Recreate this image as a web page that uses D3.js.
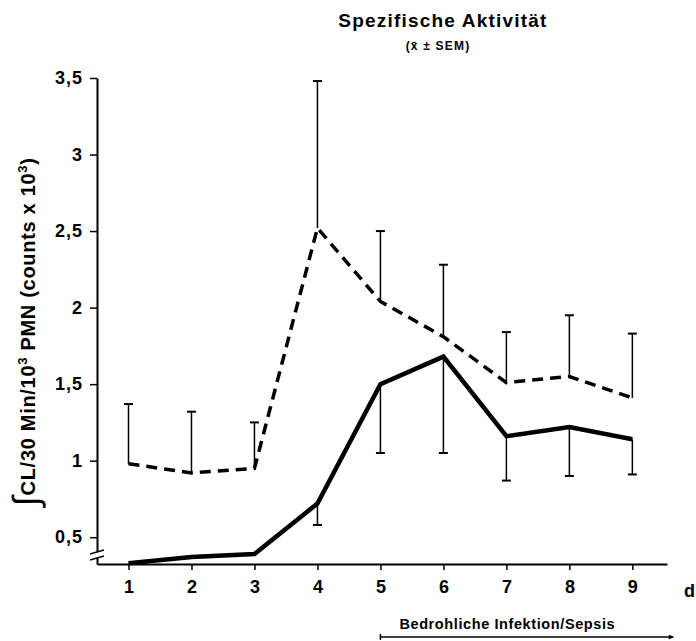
<!DOCTYPE html>
<html>
<head>
<meta charset="utf-8">
<script src="https://cdn.jsdelivr.net/npm/d3@7"></script>
<style>
  body { margin: 0; background: #fff; }
  svg { display: block; }
  text { font-family: "Liberation Sans", Arial, sans-serif; font-weight: bold; fill: #000; }
</style>
</head>
<body>
<svg width="696" height="641"></svg>
<script>
// days 1..9
const days = [1, 2, 3, 4, 5, 6, 7, 8, 9];
// dashed series: mean and upper SEM
const dashedMean = [0.98, 0.92, 0.95, 2.52, 2.04, 1.81, 1.51, 1.55, 1.41];
const dashedUpper = [1.37, 1.32, 1.25, 3.48, 2.50, 2.28, 1.84, 1.95, 1.83];
// solid series: mean and lower SEM (null = no bar)
const solidMean = [0.33, 0.37, 0.39, 0.72, 1.50, 1.68, 1.16, 1.22, 1.14];
const solidLower = [null, null, null, 0.58, 1.05, 1.05, 0.87, 0.90, 0.91];
const yTicks = [0.5, 1, 1.5, 2, 2.5, 3, 3.5];
const yTickLabels = ["0,5", "1", "1,5", "2", "2,5", "3", "3,5"];

const svg = d3.select("svg"),
    margin = {top: 78, left: 97},
    width = 570,
    height = 486;

const x = d3.scaleLinear().domain([0.5, 9.55]).range([0, width]),
    y = d3.scaleLinear().domain([0.325, 3.5]).range([height, 0]);

const g = svg.append("g")
    .attr("transform", `translate(${margin.left},${margin.top})`);

// x axis
const xAxis = g.append("g")
    .attr("transform", `translate(0,${height})`)
    .call(d3.axisBottom(x).tickValues(days).tickSize(6).tickSizeOuter(0).tickPadding(8).tickFormat(d3.format("d")));
xAxis.attr("font-family", null);
xAxis.select(".domain").attr("stroke-width", 2);
xAxis.selectAll(".tick line").attr("stroke-width", 1.5);
xAxis.selectAll(".tick text").style("font-size", "18px").attr("dy", "0.85em");

g.append("text")
    .attr("x", 598)
    .attr("y", height + 33)
    .attr("text-anchor", "end")
    .style("font-size", "18px")
    .text("d");

// y axis
const yAxis = g.append("g")
    .call(d3.axisLeft(y).tickValues(yTicks).tickSize(7).tickSizeOuter(0).tickPadding(7)
        .tickFormat((d, i) => yTickLabels[i]));
yAxis.attr("font-family", null);
yAxis.select(".domain").attr("stroke-width", 2);
yAxis.selectAll(".tick line").attr("stroke-width", 1.5);
yAxis.selectAll(".tick text").style("font-size", "18px").style("letter-spacing", "1px");

// axis break
const by = height - 9;
g.append("rect").attr("x", -6).attr("y", by - 3).attr("width", 12).attr("height", 6).attr("fill", "#fff");
[-3, 3].forEach(o => {
    g.append("line")
        .attr("x1", -7).attr("y1", by + o + 2)
        .attr("x2", 7).attr("y2", by + o - 2)
        .attr("stroke", "#000").attr("stroke-width", 1.5);
});

// y axis title
const ylab = svg.append("text")
    .attr("transform", "translate(35,506) rotate(-90)")
    .attr("text-anchor", "start")
    .style("font-size", "20px")
    .style("letter-spacing", "0.7px");
ylab.append("tspan").style("font-size", "36px").style("font-weight", "normal").attr("dy", "3").text("∫");
ylab.append("tspan").attr("dy", "-3").text("CL/30 Min/10");
ylab.append("tspan").style("font-size", "13px").attr("dy", "-8").text("3");
ylab.append("tspan").attr("dy", "8").text(" PMN (counts x 10");
ylab.append("tspan").style("font-size", "13px").attr("dy", "-8").text("3");
ylab.append("tspan").attr("dy", "8").text(")");

// title
svg.append("text")
    .attr("x", 443).attr("y", 27)
    .attr("text-anchor", "middle")
    .style("font-size", "19px")
    .style("letter-spacing", "1.2px")
    .text("Spezifische Aktivität");
svg.append("text")
    .attr("x", 438).attr("y", 50)
    .attr("text-anchor", "middle")
    .style("font-size", "12px")
    .style("letter-spacing", "1.2px")
    .text("(x\u0304 ± SEM)");

// error bars
const cap = 4.5;
function errBars(vals, ends, cls) {
    const eg = g.append("g").attr("class", cls);
    days.forEach((d, i) => {
        if (ends[i] == null) return;
        eg.append("line")
            .attr("x1", x(d)).attr("x2", x(d))
            .attr("y1", y(vals[i])).attr("y2", y(ends[i]))
            .attr("stroke", "#000").attr("stroke-width", 1.5);
        eg.append("line")
            .attr("x1", x(d) - cap).attr("x2", x(d) + cap)
            .attr("y1", y(ends[i])).attr("y2", y(ends[i]))
            .attr("stroke", "#000").attr("stroke-width", 2);
    });
}
errBars(dashedMean, dashedUpper, "err dashed");
errBars(solidMean, solidLower, "err solid");

const line = d3.line().x((d, i) => x(days[i])).y(d => y(d));

g.append("path")
    .datum(dashedMean)
    .attr("d", line)
    .attr("fill", "none")
    .attr("stroke", "#000")
    .attr("stroke-width", 3.5)
    .attr("stroke-dasharray", "11,7");

g.append("path")
    .datum(solidMean)
    .attr("d", line)
    .attr("fill", "none")
    .attr("stroke", "#000")
    .attr("stroke-width", 4.5)
    .attr("stroke-linejoin", "miter");

// infection/sepsis arrow
const ay = height + 73;
svg.append("defs").append("marker")
    .attr("id", "arr")
    .attr("viewBox", "0 0 10 10")
    .attr("refX", 9).attr("refY", 5)
    .attr("markerWidth", 8).attr("markerHeight", 5)
    .attr("markerUnits", "userSpaceOnUse")
    .attr("orient", "auto")
    .append("path").attr("d", "M0,0L10,5L0,10z").attr("fill", "#000");
g.append("line")
    .attr("x1", x(5)).attr("x2", x(9.65))
    .attr("y1", ay).attr("y2", ay)
    .attr("stroke", "#000").attr("stroke-width", 1.5)
    .attr("marker-end", "url(#arr)");
g.append("line")
    .attr("x1", x(5)).attr("x2", x(5))
    .attr("y1", ay - 3).attr("y2", ay + 3)
    .attr("stroke", "#000").attr("stroke-width", 1.5);
g.append("text")
    .attr("x", x(5) + 19)
    .attr("y", ay - 8)
    .style("font-size", "14.5px")
    .style("letter-spacing", "0.6px")
    .text("Bedrohliche Infektion/Sepsis");
</script>
</body>
</html>
